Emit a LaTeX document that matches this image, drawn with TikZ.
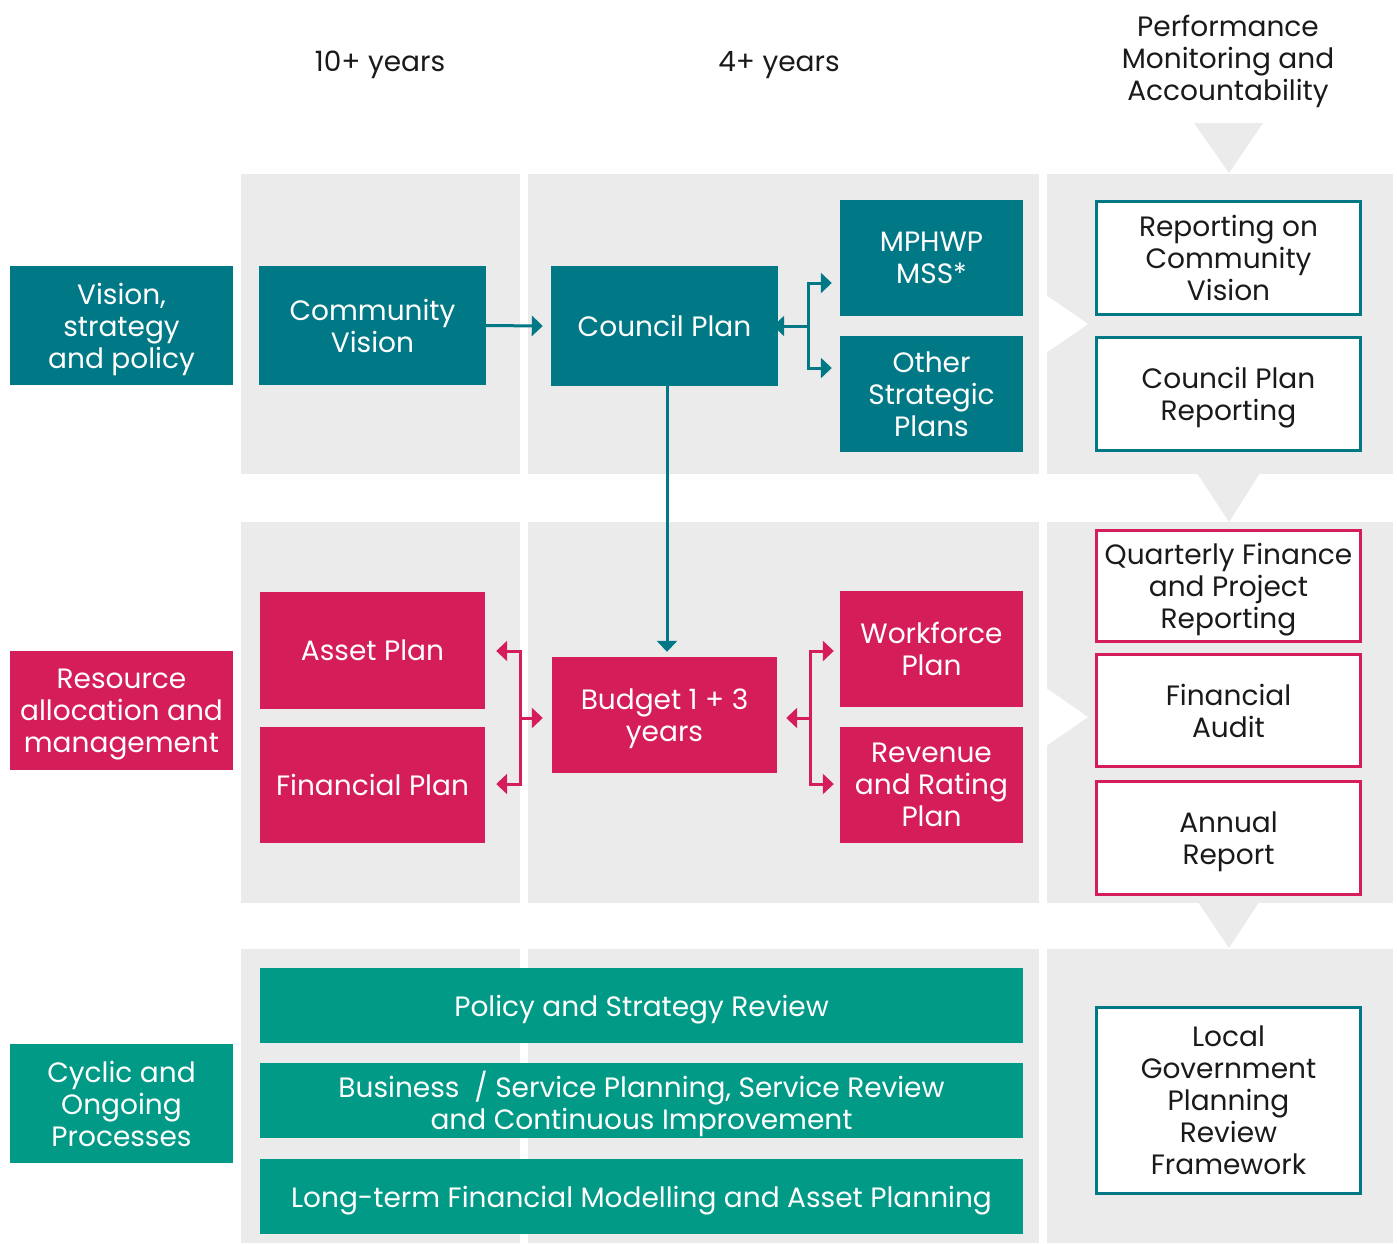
\documentclass[tikz,border=0pt]{standalone}
\usepackage{fontspec}
\setmainfont{Poppins}
\usetikzlibrary{arrows.meta,calc}
\definecolor{cteal}{HTML}{007886}
\definecolor{cpink}{HTML}{D51D5A}
\definecolor{cgreen}{HTML}{009A87}
\definecolor{cgray}{HTML}{EBEBEB}
\definecolor{ctext}{HTML}{1A1A1A}
\tikzset{
  base/.style={inner sep=0pt, align=center, text depth=0pt, font=\fontsize{28}{32}\selectfont},
  tealbox/.style={base, fill=cteal, text=white},
  pinkbox/.style={base, fill=cpink, text=white},
  greenbox/.style={base, fill=cgreen, text=white},
  tealout/.style={base, fill=white, draw=cteal, line width=3pt, text=ctext},
  pinkout/.style={base, fill=white, draw=cpink, line width=3pt, text=ctext},
  head/.style={base, text=ctext},
  tarr/.style={draw=cteal, line width=3pt, -{Triangle[length=11pt,width=20pt]}},
  tline/.style={draw=cteal, line width=3pt},
  parr/.style={draw=cpink, line width=3pt, -{Triangle[length=11pt,width=20pt]}},
  pline/.style={draw=cpink, line width=3pt},
}
\begin{document}
\begin{tikzpicture}[x=1pt,y=-1pt]
\useasboundingbox (0,0) rectangle (1397,1243);
\fill[white] (0,0) rectangle (1397,1243);
% gray panels
\foreach \ya/\yb in {174/474, 522/903, 949/1243}{
  \fill[cgray] (241,\ya) rectangle (520,\yb);
  \fill[cgray] (528,\ya) rectangle (1039,\yb);
  \fill[cgray] (1047,\ya) rectangle (1393,\yb);
}
% gray down triangles
\fill[cgray] (1194,123) -- (1263,123) -- (1229,173) -- cycle;
\fill[cgray] (1197,473) -- (1260,473) -- (1229,522) -- cycle;
\fill[cgray] (1198,902) -- (1259,902) -- (1229,948) -- cycle;
% white chevrons
\fill[white] (1046,295) -- (1088,324) -- (1046,353) -- cycle;
\fill[white] (1046,688) -- (1088,717) -- (1046,746) -- cycle;

% headers
\node[head] (h1) at (380,61) {10+ years};
\node[head] (h2) at (779,61) {4+ years};
\node[head] (h3) at (1228,58) {Performance\\Monitoring and\\Accountability};

% row 1
\node[tealbox, minimum width=223pt, minimum height=119pt] (vis) at (121.5,325.5) {Vision,\\strategy\\and policy};
\node[tealbox, minimum width=227pt, minimum height=119pt] (cv) at (372.5,325.5) {Community\\Vision};
\node[tealbox, minimum width=227pt, minimum height=120pt] (cp) at (664.5,326) {Council Plan};
\node[tealbox, minimum width=183pt, minimum height=116pt] (mp) at (931.5,258) {MPHWP\\MSS*};
\node[tealbox, minimum width=183pt, minimum height=116pt] (osp) at (931.5,394) {Other\\Strategic\\Plans};
\node[tealout, minimum width=264pt, minimum height=113pt] (rcv) at (1228.5,258) {Reporting on\\Community\\Vision};
\node[tealout, minimum width=264pt, minimum height=113pt] (cpr) at (1228.5,394) {Council Plan\\Reporting};

% row 2
\node[pinkbox, minimum width=223pt, minimum height=119pt] (res) at (121.5,710.5) {Resource\\allocation and\\management};
\node[pinkbox, minimum width=225pt, minimum height=117pt] (ap) at (372.5,650.5) {Asset Plan};
\node[pinkbox, minimum width=225pt, minimum height=116pt] (fp) at (372.5,785) {Financial Plan};
\node[pinkbox, minimum width=225pt, minimum height=116pt] (bud) at (664.5,715) {Budget 1 + 3\\years};
\node[pinkbox, minimum width=183pt, minimum height=116pt] (wp) at (931.5,649) {Workforce\\Plan};
\node[pinkbox, minimum width=183pt, minimum height=116pt] (rr) at (931.5,785) {Revenue\\and Rating\\Plan};
\node[pinkout, minimum width=264pt, minimum height=111pt] (qf) at (1228.5,586) {Quarterly Finance\\and Project\\Reporting};
\node[pinkout, minimum width=264pt, minimum height=112pt] (fa) at (1228.5,710.5) {Financial\\Audit};
\node[pinkout, minimum width=264pt, minimum height=113pt] (ar) at (1228.5,838) {Annual\\Report};

% row 3
\node[greenbox, minimum width=223pt, minimum height=119pt] (cyc) at (121.5,1103.5) {Cyclic and\\Ongoing\\Processes};
\node[greenbox, minimum width=763pt, minimum height=75pt] (psr) at (641.5,1005.5) {Policy and Strategy Review};
\node[greenbox, minimum width=763pt, minimum height=75pt] (bsp) at (641.5,1100.5) {Business~~/ Service Planning, Service Review\\and Continuous Improvement};
\node[greenbox, minimum width=763pt, minimum height=75pt] (lfm) at (641.5,1196.5) {Long-term Financial Modelling and Asset Planning};
\node[tealout, minimum width=264pt, minimum height=186pt] (lg) at (1228.5,1100.5) {Local\\Government\\Planning\\Review\\Framework};

% connectors row 1
\draw[tarr] (cv.east) -- ([xshift=-8pt]cp.west);
\coordinate (cj) at (808,326);
\coordinate (cjt) at (808,283);
\coordinate (cjb) at (808,368);
\draw[tline] (cjt) -- (cjb);
\draw[tarr] (cj) -- ([xshift=-5pt]cp.east);
\draw[tarr] ([xshift=-1.5pt]cjt) -- ([xshift=-8pt]cjt -| mp.west);
\draw[tarr] ([xshift=-1.5pt]cjb) -- ([xshift=-8pt]cjb -| osp.west);
\draw[tarr] ([xshift=2.5pt]cp.south) -- ([xshift=2.5pt,yshift=5pt]bud.north);

% connectors row 2
\coordinate (bj) at (520,718);
\coordinate (bjt) at (520,651);
\coordinate (bjb) at (520,784);
\draw[pline] (bjt) -- (bjb);
\draw[parr] (bj) -- ([xshift=-9pt]bud.west |- bj);
\draw[parr] ([xshift=1.5pt]bjt) -- ([xshift=11pt]bjt -| ap.east);
\draw[parr] ([xshift=1.5pt]bjb) -- ([xshift=11pt]bjb -| fp.east);
\coordinate (rj) at (810,718);
\coordinate (rjt) at (810,651);
\coordinate (rjb) at (810,784);
\draw[pline] (rjt) -- (rjb);
\draw[parr] (rj) -- ([xshift=9pt]bud.east |- rj);
\draw[parr] ([xshift=-1.5pt]rjt) -- ([xshift=-6pt]rjt -| wp.west);
\draw[parr] ([xshift=-1.5pt]rjb) -- ([xshift=-6pt]rjb -| rr.west);
\end{tikzpicture}
\end{document}
